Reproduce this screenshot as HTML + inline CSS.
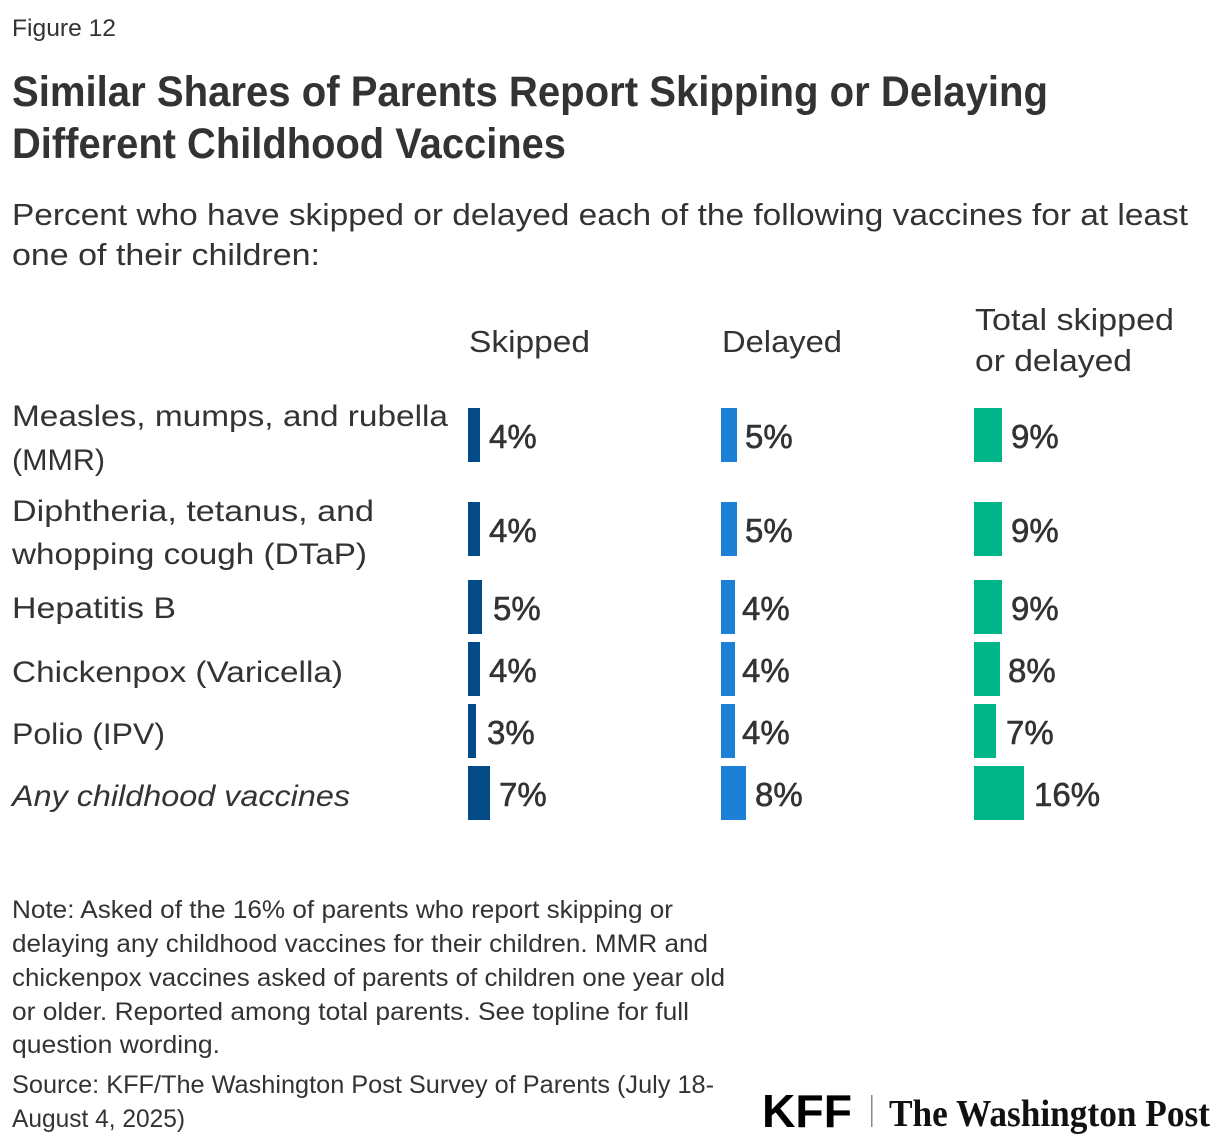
<!DOCTYPE html>
<html>
<head>
<meta charset="utf-8">
<style>
  html, body { margin: 0; padding: 0; background: #ffffff; }
  svg { display: block; }
  text { font-family: "Liberation Sans", sans-serif; fill: #333333; }
  .t { font-weight: 700; font-size: 43px; }
  .sub { font-size: 31px; }
  .hd { font-size: 31px; }
  .lb { font-size: 30px; }
  .v { font-size: 33px; stroke: #333333; stroke-width: 0.6px; }
  .nt { font-size: 25px; }
</style>
</head>
<body>
<svg width="1220" height="1148" viewBox="0 0 1220 1148" xmlns="http://www.w3.org/2000/svg">
  <rect width="1220" height="1148" fill="#ffffff"/>

  <!-- Figure label -->
  <text x="12" y="36" font-size="24" textLength="104" lengthAdjust="spacingAndGlyphs">Figure 12</text>

  <!-- Title -->
  <text class="t" x="12" y="106" textLength="1036" lengthAdjust="spacingAndGlyphs">Similar Shares of Parents Report Skipping or Delaying</text>
  <text class="t" x="12" y="158" textLength="554" lengthAdjust="spacingAndGlyphs">Different Childhood Vaccines</text>

  <!-- Subtitle -->
  <text class="sub" x="12" y="225" textLength="1176" lengthAdjust="spacingAndGlyphs">Percent who have skipped or delayed each of the following vaccines for at least</text>
  <text class="sub" x="12" y="265" textLength="308" lengthAdjust="spacingAndGlyphs">one of their children:</text>

  <!-- Column headers -->
  <text class="hd" x="469" y="352" textLength="121" lengthAdjust="spacingAndGlyphs">Skipped</text>
  <text class="hd" x="722" y="352" textLength="120" lengthAdjust="spacingAndGlyphs">Delayed</text>
  <text class="hd" x="975" y="330" textLength="199" lengthAdjust="spacingAndGlyphs">Total skipped</text>
  <text class="hd" x="975" y="371" textLength="157" lengthAdjust="spacingAndGlyphs">or delayed</text>

  <!-- Row labels -->
  <text class="lb" x="12" y="426" textLength="436" lengthAdjust="spacingAndGlyphs">Measles, mumps, and rubella</text>
  <text class="lb" x="12" y="470" textLength="93" lengthAdjust="spacingAndGlyphs">(MMR)</text>
  <text class="lb" x="12" y="521" textLength="362" lengthAdjust="spacingAndGlyphs">Diphtheria, tetanus, and</text>
  <text class="lb" x="12" y="564" textLength="355" lengthAdjust="spacingAndGlyphs">whopping cough (DTaP)</text>
  <text class="lb" x="12" y="618" textLength="164" lengthAdjust="spacingAndGlyphs">Hepatitis B</text>
  <text class="lb" x="12" y="682" textLength="331" lengthAdjust="spacingAndGlyphs">Chickenpox (Varicella)</text>
  <text class="lb" x="12" y="744" textLength="153" lengthAdjust="spacingAndGlyphs">Polio (IPV)</text>
  <text class="lb" x="12" y="806" font-style="italic" textLength="338" lengthAdjust="spacingAndGlyphs">Any childhood vaccines</text>

  <!-- Skipped bars -->
  <g fill="#024b87">
    <rect x="468" y="408" width="12" height="54"/>
    <rect x="468" y="502" width="12" height="54"/>
    <rect x="468" y="580" width="14" height="54"/>
    <rect x="468" y="642" width="12" height="54"/>
    <rect x="468" y="704" width="8" height="54"/>
    <rect x="468" y="766" width="22" height="54"/>
  </g>
  <!-- Delayed bars -->
  <g fill="#1c80d6">
    <rect x="721" y="408" width="16" height="54"/>
    <rect x="721" y="502" width="16" height="54"/>
    <rect x="721" y="580" width="14" height="54"/>
    <rect x="721" y="642" width="14" height="54"/>
    <rect x="721" y="704" width="14" height="54"/>
    <rect x="721" y="766" width="25" height="54"/>
  </g>
  <!-- Total bars -->
  <g fill="#00b689">
    <rect x="974" y="408" width="28" height="54"/>
    <rect x="974" y="502" width="28" height="54"/>
    <rect x="974" y="580" width="28" height="54"/>
    <rect x="974" y="642" width="26" height="54"/>
    <rect x="974" y="704" width="22" height="54"/>
    <rect x="974" y="766" width="50" height="54"/>
  </g>

  <!-- Value labels: skipped -->
  <text class="v" x="489" y="448">4%</text>
  <text class="v" x="489" y="542">4%</text>
  <text class="v" x="493" y="620">5%</text>
  <text class="v" x="489" y="682">4%</text>
  <text class="v" x="487" y="744">3%</text>
  <text class="v" x="499" y="806">7%</text>
  <!-- Value labels: delayed -->
  <text class="v" x="745" y="448">5%</text>
  <text class="v" x="745" y="542">5%</text>
  <text class="v" x="742" y="620">4%</text>
  <text class="v" x="742" y="682">4%</text>
  <text class="v" x="742" y="744">4%</text>
  <text class="v" x="755" y="806">8%</text>
  <!-- Value labels: total -->
  <text class="v" x="1011" y="448">9%</text>
  <text class="v" x="1011" y="542">9%</text>
  <text class="v" x="1011" y="620">9%</text>
  <text class="v" x="1008" y="682">8%</text>
  <text class="v" x="1006" y="744">7%</text>
  <text class="v" x="1034" y="806">16%</text>

  <!-- Note -->
  <text class="nt" x="12" y="918" textLength="661" lengthAdjust="spacingAndGlyphs">Note: Asked of the 16% of parents who report skipping or</text>
  <text class="nt" x="12" y="952" textLength="696" lengthAdjust="spacingAndGlyphs">delaying any childhood vaccines for their children. MMR and</text>
  <text class="nt" x="12" y="986" textLength="713" lengthAdjust="spacingAndGlyphs">chickenpox vaccines asked of parents of children one year old</text>
  <text class="nt" x="12" y="1020" textLength="677" lengthAdjust="spacingAndGlyphs">or older. Reported among total parents. See topline for full</text>
  <text class="nt" x="12" y="1053" textLength="208" lengthAdjust="spacingAndGlyphs">question wording.</text>

  <!-- Source -->
  <text class="nt" x="12" y="1093" textLength="702" lengthAdjust="spacingAndGlyphs">Source: KFF/The Washington Post Survey of Parents (July 18-</text>
  <text class="nt" x="12" y="1127" textLength="173" lengthAdjust="spacingAndGlyphs">August 4, 2025)</text>

  <!-- Logos -->
  <text x="762" y="1127" font-size="46" font-weight="700" style="fill:#000" textLength="90" lengthAdjust="spacingAndGlyphs">KFF</text>
  <rect x="871" y="1095" width="1.5" height="32" fill="#888888"/>
  <text x="889" y="1126" font-size="38" font-weight="700" style="fill:#111;font-family:'Liberation Serif',serif" textLength="321" lengthAdjust="spacingAndGlyphs">The Washington Post</text>
</svg>
</body>
</html>
